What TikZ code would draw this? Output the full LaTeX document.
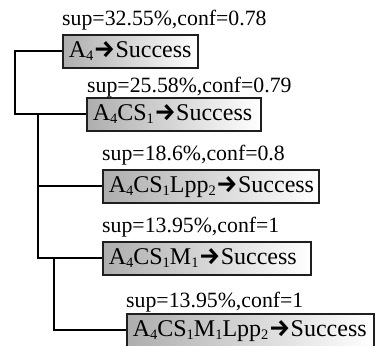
\documentclass[tikz,border=0pt]{standalone}
\usepackage{fontspec}
\setmainfont{Liberation Serif}
\newfontfamily\arrowfont{Fira Sans}
\newcommand\myarrow{{\arrowfont\bfseries\fontsize{24}{24}\selectfont\kern0.3pt →\kern0.3pt}}
\newcommand\mysub[1]{\raisebox{-2.5pt}{\fontsize{14.5}{14.5}\selectfont #1}}
\begin{document}
\begin{tikzpicture}[x=1pt,y=-1pt,
  lbl/.style={anchor=base west, inner sep=0pt, font=\fontsize{21.8}{24}\selectfont},
  rulebox/.style={draw=black!88, line width=1.6pt, left color=black!32, right color=white,
    anchor=north west, inner xsep=6pt, inner ysep=0pt, align=left,
    text height=17pt, text depth=4pt,
    minimum height=33pt, text width=#1-12pt, font=\fontsize{24}{26}\selectfont},
  conn/.style={line width=1.8pt, draw=black}]
\useasboundingbox (0,0) rectangle (377,345);
% labels
\node[lbl] (l1) at (62,26) {sup=32.55\%,conf=0.78};
\node[lbl] (l2) at (87,92) {sup=25.58\%,conf=0.79};
\node[lbl] (l3) at (102,160) {sup=18.6\%,conf=0.8};
\node[lbl] (l4) at (102,232) {sup=13.95\%,conf=1};
\node[lbl] (l5) at (126,307) {sup=13.95\%,conf=1};
% boxes
\node[rulebox=135pt] (b1) at (62,34) {A\mysub{4}\myarrow Success};
\node[rulebox=174pt] (b2) at (86,97) {A\mysub{4}CS\mysub{1}\myarrow Success};
\node[rulebox=216pt] (b3) at (102,169) {A\mysub{4}CS\mysub{1}Lpp\mysub{2}\myarrow Success};
\node[rulebox=208pt] (b4) at (102,241) {A\mysub{4}CS\mysub{1}M\mysub{1}\myarrow Success};
\node[rulebox=247pt] (b5) at (126,313) {A\mysub{4}CS\mysub{1}M\mysub{1}Lpp\mysub{2}\myarrow Success};
% connectors
\draw[conn] (b1.west) -- (15,0 |- b1.west) |- (b2.west);
\draw[conn] (38,0 |- b2.west) -- (38,0 |- b4.west) -- (b4.west);
\draw[conn] (38,0 |- b3.west) -- (b3.west);
\draw[conn] (54,0 |- b4.west) |- (b5.west);
\end{tikzpicture}
\end{document}
